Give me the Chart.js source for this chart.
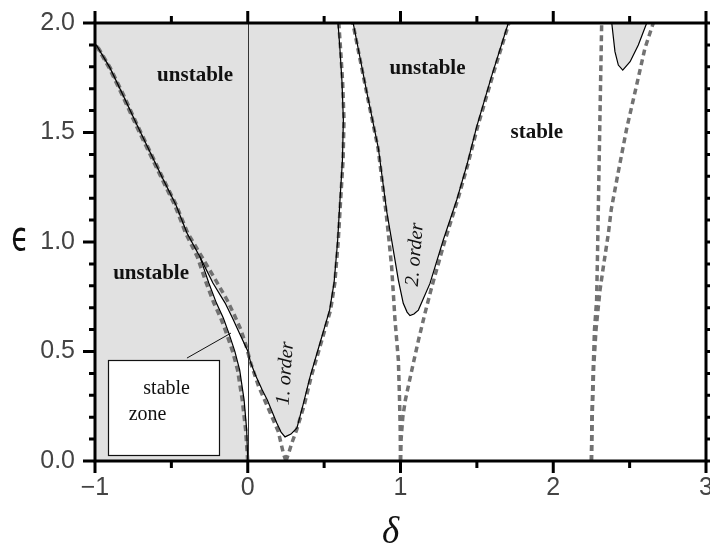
<!DOCTYPE html>
<html>
<head>
<meta charset="utf-8">
<script src="https://cdn.jsdelivr.net/npm/chart.js@4.4.1/dist/chart.umd.min.js"></script>
<style>
  html, body { margin: 0; padding: 0; background: #fff; }
  canvas { display: block; }
</style>
</head>
<body>
<canvas id="chart" width="710" height="545" style="width:710px;height:545px"></canvas>
<script>
// Stability chart in the (δ, ϵ) plane: exact transition curves (solid),
// perturbation approximations (dashed) and the unstable tongues shaded grey.

const deltaRange = [-1, 3];
const epsRange = [0, 2];
const deltaTicks = [-1, 0, 1, 2, 3];
const epsTicks = [0, 0.5, 1, 1.5, 2];

// Shared upper boundary where the narrow stable band has closed
const upperDelta = [-0.997, -0.985, -0.902, -0.817, -0.725, -0.640, -0.555, -0.470, -0.398, -0.313];
const upperEps   = [1.904, 1.892, 1.795, 1.671, 1.534, 1.411, 1.288, 1.169, 1.041, 0.932];
// Left edge of the stable band, down to the origin
const bandLeftDelta = [-0.255, -0.205, -0.160, -0.124, -0.085, -0.053, -0.024, -0.007, 0.0];
const bandLeftEps   = [0.813, 0.721, 0.653, 0.584, 0.502, 0.416, 0.279, 0.142, 0.0];
// Right edge of the stable band, down to the tip of the first tongue
const bandRightDelta = [-0.228, -0.148, -0.100, -0.055, 0.000, 0.018, 0.050, 0.095, 0.128, 0.190, 0.218, 0.244];
const bandRightEps   = [0.813, 0.721, 0.653, 0.584, 0.502, 0.452, 0.393, 0.324, 0.279, 0.174, 0.132, 0.110];
// Right edge of the first tongue
const tongue1Delta = [0.283, 0.322, 0.362, 0.408, 0.473, 0.536, 0.565, 0.588, 0.604, 0.620, 0.626, 0.617, 0.604, 0.591];
const tongue1Eps   = [0.123, 0.151, 0.256, 0.384, 0.539, 0.689, 0.813, 1.000, 1.192, 1.374, 1.557, 1.731, 1.877, 2.000];
// Second tongue
const tongue2Delta = [0.690, 0.779, 0.855, 0.910, 0.942, 0.986, 1.018, 1.043, 1.062, 1.088, 1.117, 1.193, 1.280, 1.368, 1.435, 1.499, 1.599, 1.706];
const tongue2Eps   = [2.000, 1.686, 1.428, 1.138, 1.009, 0.826, 0.720, 0.680, 0.664, 0.671, 0.689, 0.811, 1.009, 1.192, 1.352, 1.527, 1.763, 2.000];
// Third tongue
const tongue3Delta = [2.383, 2.404, 2.426, 2.455, 2.503, 2.557, 2.612];
const tongue3Eps   = [2.000, 1.869, 1.808, 1.785, 1.823, 1.900, 2.000];

// Approximate transition curves (dashed)
const approx0Delta = [0.0, -0.014, -0.036, -0.067, -0.100, -0.140, -0.177, -0.222, -0.272, -0.330, -0.407, -0.478, -0.562, -0.647, -0.732, -0.822, -0.907, -0.987, -0.999];
const approx0Eps   = [0.0, 0.142, 0.279, 0.416, 0.502, 0.584, 0.653, 0.721, 0.813, 0.932, 1.041, 1.169, 1.288, 1.411, 1.534, 1.671, 1.795, 1.892, 1.904];
const approx1aDelta = [0.250, 0.233, 0.200, 0.135, 0.072, 0.020, -0.012, -0.045, -0.090, -0.135, -0.205, -0.300, -0.393, -0.468, -0.553, -0.638, -0.723, -0.813, -0.900, -0.983, -0.995];
const approx1aEps   = [0.000, 0.035, 0.134, 0.240, 0.339, 0.446, 0.530, 0.600, 0.670, 0.735, 0.820, 0.932, 1.041, 1.169, 1.288, 1.411, 1.534, 1.671, 1.795, 1.892, 1.904];
const approx1bDelta = [0.250, 0.270, 0.288, 0.320, 0.370, 0.415, 0.480, 0.542, 0.570, 0.592, 0.608, 0.624, 0.630, 0.621, 0.608, 0.596];
const approx1bEps   = [0.000, 0.040, 0.081, 0.142, 0.256, 0.384, 0.539, 0.689, 0.813, 1.000, 1.192, 1.374, 1.557, 1.731, 1.877, 2.000];
const approx2aDelta = [1.000, 0.998, 0.993, 0.986, 0.964, 0.942, 0.920, 0.905, 0.853, 0.777, 0.688];
const approx2aEps   = [0.000, 0.150, 0.300, 0.461, 0.644, 0.887, 1.040, 1.138, 1.428, 1.686, 2.000];
const approx2bDelta = [1.000, 1.004, 1.015, 1.032, 1.060, 1.085, 1.118, 1.160, 1.205, 1.288, 1.374, 1.440, 1.505, 1.605, 1.710];
const approx2bEps   = [0.000, 0.100, 0.200, 0.279, 0.370, 0.450, 0.553, 0.674, 0.796, 1.000, 1.192, 1.352, 1.527, 1.763, 2.000];
const approx3aDelta = [2.250, 2.253, 2.262, 2.270, 2.284, 2.290, 2.295, 2.306, 2.317];
const approx3aEps   = [0.000, 0.200, 0.430, 0.600, 0.735, 0.950, 1.150, 1.580, 2.000];
const approx3bDelta = [2.250, 2.255, 2.265, 2.280, 2.306, 2.328, 2.361, 2.380, 2.426, 2.481, 2.546, 2.600, 2.655];
const approx3bEps   = [0.000, 0.200, 0.430, 0.600, 0.780, 0.887, 1.040, 1.150, 1.321, 1.519, 1.717, 1.884, 2.000];

const pts = (d, e) => d.map((v, i) => ({ x: v, y: e[i] }));
const rev = a => a.slice().reverse();

const upper = pts(upperDelta, upperEps);
const bandLeft = pts(bandLeftDelta, bandLeftEps);
const bandRight = pts(bandRightDelta, bandRightEps);
const tongue1 = pts(tongue1Delta, tongue1Eps);

// Unstable region left of the band plus the first tongue, as one closed outline
const region1 = [
  { x: deltaRange[0], y: epsRange[0] },
  ...rev(bandLeft), ...rev(upper), ...upper, ...bandRight, ...tongue1,
  { x: deltaRange[0], y: epsRange[1] }
];

const GREY_FILL = '#e1e1e1';
const DASH = '#727272';

const fillSet = data => ({ data, fill: 'shape', backgroundColor: GREY_FILL, borderWidth: 0, pointRadius: 0, order: 3 });
const solidSet = data => ({ data, fill: false, borderColor: '#000', borderWidth: 1.2, pointRadius: 0, order: 1 });
const dashSet = data => ({ data, fill: false, borderColor: DASH, borderWidth: 3.5, borderDash: [6, 4], pointRadius: 0, order: 2 });

const datasets = [
  fillSet(region1),
  fillSet(pts(tongue2Delta, tongue2Eps)),
  fillSet(pts(tongue3Delta, tongue3Eps)),
  dashSet(pts(approx0Delta, approx0Eps)),
  dashSet(pts(approx1aDelta, approx1aEps)),
  dashSet(pts(approx1bDelta, approx1bEps)),
  dashSet(pts(approx2aDelta, approx2aEps)),
  dashSet(pts(approx2bDelta, approx2bEps)),
  dashSet(pts(approx3aDelta, approx3aEps)),
  dashSet(pts(approx3bDelta, approx3bEps)),
  solidSet([...rev(bandLeft), ...rev(upper)]),
  solidSet([upper[upper.length - 1], ...bandRight, ...tongue1]),
  solidSet(pts(tongue2Delta, tongue2Eps)),
  solidSet(pts(tongue3Delta, tongue3Eps))
];

// Region labels, placed in data coordinates
const labels = [
  { text: 'unstable', x: -0.345, y: 1.758, font: 'bold 21px "Liberation Serif", serif' },
  { text: 'unstable', x: -0.633, y: 0.854, font: 'bold 21px "Liberation Serif", serif' },
  { text: 'unstable', x: 1.177, y: 1.790, font: 'bold 21px "Liberation Serif", serif' },
  { text: 'stable', x: 1.892, y: 1.498, font: 'bold 21px "Liberation Serif", serif' },
  { text: '1. order', x: 0.247, y: 0.400, font: 'italic 20px "Liberation Serif", serif', angle: -86 },
  { text: '2. order', x: 1.095, y: 0.943, font: 'italic 20px "Liberation Serif", serif', angle: -85.5 }
];
const zoneBox = { x0: -0.915, x1: -0.188, y0: 0.027, y1: 0.461 };
const zoneLeader = { x0: -0.398, y0: 0.470, x1: -0.110, y1: 0.584 };
const zoneText = [
  { text: 'stable', x: -0.531, y: 0.329 },
  { text: 'zone', x: -0.656, y: 0.210 }
];

const decor = {
  id: 'decor',
  afterDatasetsDraw(chart) {
    const { ctx, chartArea: a, scales: { x, y } } = chart;
    ctx.save();

    // δ = 0 reference line
    const xz = Math.round(x.getPixelForValue(0)) + 0.5;
    ctx.strokeStyle = '#333';
    ctx.lineWidth = 1;
    ctx.beginPath();
    ctx.moveTo(xz, a.top);
    ctx.lineTo(xz, a.bottom);
    ctx.stroke();

    // "stable zone" callout
    const bx0 = x.getPixelForValue(zoneBox.x0), bx1 = x.getPixelForValue(zoneBox.x1);
    const by0 = y.getPixelForValue(zoneBox.y1), by1 = y.getPixelForValue(zoneBox.y0);
    ctx.fillStyle = '#fff';
    ctx.fillRect(bx0, by0, bx1 - bx0, by1 - by0);
    ctx.strokeStyle = '#111';
    ctx.lineWidth = 1.2;
    ctx.strokeRect(Math.round(bx0) + 0.5, Math.round(by0) + 0.5, Math.round(bx1 - bx0), Math.round(by1 - by0));
    ctx.beginPath();
    ctx.moveTo(x.getPixelForValue(zoneLeader.x0), y.getPixelForValue(zoneLeader.y0));
    ctx.lineTo(x.getPixelForValue(zoneLeader.x1), y.getPixelForValue(zoneLeader.y1));
    ctx.lineWidth = 1;
    ctx.stroke();
    ctx.fillStyle = '#111';
    ctx.font = '20px "Liberation Serif", serif';
    ctx.textAlign = 'center';
    ctx.textBaseline = 'middle';
    zoneText.forEach(t => ctx.fillText(t.text, x.getPixelForValue(t.x), y.getPixelForValue(t.y)));

    // region labels
    labels.forEach(l => {
      ctx.save();
      ctx.translate(x.getPixelForValue(l.x), y.getPixelForValue(l.y));
      if (l.angle) ctx.rotate(l.angle * Math.PI / 180);
      ctx.font = l.font;
      ctx.fillStyle = '#111';
      ctx.textAlign = 'center';
      ctx.textBaseline = 'middle';
      ctx.fillText(l.text, 0, 0);
      ctx.restore();
    });

    // frame
    ctx.strokeStyle = '#000';
    ctx.lineWidth = 3;
    ctx.strokeRect(a.left, a.top, a.right - a.left, a.bottom - a.top);

    // tick marks on all four sides, major and minor
    ctx.lineWidth = 3;
    ctx.beginPath();
    for (let i = 0; i <= 8; i++) {
      const v = deltaRange[0] + i * 0.5;
      const px = x.getPixelForValue(v);
      const len = i % 2 === 0 ? 12 : 7;
      ctx.moveTo(px, a.bottom); ctx.lineTo(px, a.bottom + len);
      ctx.moveTo(px, a.top); ctx.lineTo(px, a.top - len);
    }
    for (let i = 0; i <= 20; i++) {
      const v = epsRange[0] + i * 0.1;
      const py = y.getPixelForValue(v);
      const len = i % 5 === 0 ? 12 : 6;
      ctx.moveTo(a.left, py); ctx.lineTo(a.left - len, py);
      ctx.moveTo(a.right, py); ctx.lineTo(a.right + len, py);
    }
    ctx.stroke();

    // axis symbols
    ctx.fillStyle = '#111';
    ctx.textAlign = 'center';
    ctx.textBaseline = 'alphabetic';
    ctx.save();
    ctx.translate(a.left - 75, y.getPixelForValue(1.0) + 8);
    ctx.scale(0.72, 1);
    ctx.font = '40px "DejaVu Sans", sans-serif';
    ctx.fillText('\u03F5', 0, 0);
    ctx.restore();
    ctx.font = 'italic 37px "Liberation Serif", serif';
    ctx.fillText('\u03B4', (a.left + a.right) / 2 - 10, a.bottom + 82);

    ctx.restore();
  }
};

const tickFont = { family: '"Liberation Sans", Arial, sans-serif', size: 25 };

new Chart(document.getElementById('chart'), {
  type: 'line',
  data: { datasets },
  options: {
    responsive: false,
    animation: false,
    layout: { padding: { top: 23, right: 4, left: 0, bottom: 0 } },
    plugins: { legend: { display: false }, tooltip: { enabled: false } },
    elements: { line: { tension: 0 } },
    scales: {
      x: {
        type: 'linear',
        min: deltaRange[0],
        max: deltaRange[1],
        afterBuildTicks: s => { s.ticks = deltaTicks.map(v => ({ value: v })); },
        ticks: {
          autoSkip: false,
          maxRotation: 0,
          padding: 12,
          color: '#444',
          font: tickFont,
          callback: v => (v < 0 ? '\u2212' + Math.abs(v) : String(v))
        },
        grid: { display: false, drawTicks: false },
        border: { display: false },
        afterFit: s => { s.height = 84; s.paddingLeft = 0; s.paddingRight = 0; }
      },
      y: {
        type: 'linear',
        min: epsRange[0],
        max: epsRange[1],
        afterBuildTicks: s => { s.ticks = epsTicks.map(v => ({ value: v })); },
        ticks: {
          autoSkip: false,
          padding: 20,
          color: '#444',
          font: tickFont,
          callback: v => Number(v).toFixed(1)
        },
        grid: { display: false, drawTicks: false },
        border: { display: false },
        afterFit: s => { s.width = 95; s.paddingTop = 0; s.paddingBottom = 0; }
      }
    }
  },
  plugins: [decor]
});
</script>
</body>
</html>
